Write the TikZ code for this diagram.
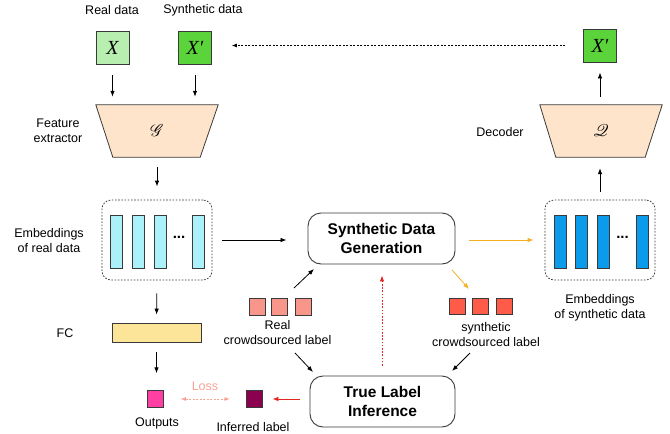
\documentclass[tikz,border=0pt]{standalone}
\usepackage{graphicx}
\usepackage{fontspec}
\usepackage{mathrsfs}
\setmainfont{Liberation Sans}
\newfontfamily\tms{Liberation Serif}
\usetikzlibrary{arrows.meta,calc}

\definecolor{lgreen}{HTML}{B9EEB1}
\definecolor{dgreen}{HTML}{5AD43A}
\definecolor{peach}{HTML}{FDE4CB}
\definecolor{cyanbar}{HTML}{AAF1F9}
\definecolor{bluebar}{HTML}{0A9BEA}
\definecolor{fcyellow}{HTML}{FCE599}
\definecolor{outpink}{HTML}{FF40A2}
\definecolor{maroon}{HTML}{8C0050}
\definecolor{reallab}{HTML}{F8968B}
\definecolor{synlab}{HTML}{FF5B49}
\definecolor{orangearr}{HTML}{F5AF22}
\definecolor{losscol}{HTML}{F7A294}
\definecolor{redarr}{HTML}{E4261E}
\definecolor{edge}{HTML}{3A3A3A}

\newcommand{\bigscr}[1]{\scalebox{1.7}{$\mathscr{#1}$}}

\tikzset{
  txt/.style={font=\fontsize{12.5}{15}\selectfont, align=center, inner sep=0pt},
  sq/.style={draw=edge, line width=0.8pt, minimum size=33pt, inner sep=0pt,
    font=\tms\itshape\fontsize{20}{20}\selectfont},
  lab/.style={draw=edge, line width=0.8pt, minimum width=16pt, minimum height=16.5pt, inner sep=0pt},
  bar/.style={draw=edge, line width=0.8pt, minimum width=12pt, minimum height=53pt, inner sep=0pt},
  dots/.style={inner sep=0pt, font=\bfseries\fontsize{15}{15}\selectfont},
  grp/.style={draw=edge, line width=0.8pt, dash pattern=on 1.6pt off 1.6pt,
    rounded corners=9pt, minimum width=110pt, minimum height=80pt},
  stage/.style={draw=edge, line width=0.9pt, rounded corners=13pt, minimum height=51pt,
    align=center, font=\bfseries\fontsize{15.5}{19}\selectfont},
  trap/.style={minimum width=122pt, minimum height=52pt, inner sep=0pt},
  arr/.style={line width=0.8pt, -{Latex[length=6pt,width=4.5pt]}},
}

\begin{document}
\begin{tikzpicture}[x=1pt,y=-1pt]
\useasboundingbox (0,0) rectangle (670,434);

% ---------- inputs and feature extractor ----------
\node[txt] at (112,10) {Real data};
\node[txt] at (203,10) {Synthetic data};
\node[sq, fill=lgreen] (x) at (112.5,47.5) {X};
\node[sq, fill=dgreen] (xs) at (195,47.5) {X′};

\node[trap] (G) at (157,131) {};
\fill[peach, draw=edge, line width=0.8pt]
  (G.north west) -- (G.north east) -- ($(G.south east)+(-18,0)$)
  -- ($(G.south west)+(17,0)$) -- cycle;
\node[inner sep=0pt] at (G.center) {\bigscr{G}};
\node[txt] at (58,131) {Feature\\extractor};

\draw[arr, shorten <=11pt, shorten >=8pt] (x.south) -- (x.south |- G.north);
\draw[arr, shorten <=11pt, shorten >=8pt] (xs.south) -- (xs.south |- G.north);

% ---------- embeddings of real data ----------
\node[grp] (er) at (157,240) {};
\node[bar, fill=cyanbar] (e1) at (116.5,241.5) {};
\node[bar, fill=cyanbar] (e2) at (138,241.5) {};
\node[bar, fill=cyanbar] (e3) at (160,241.5) {};
\node[bar, fill=cyanbar] (e4) at (198.5,241.5) {};
\node[dots] at (179,237) {...};
\node[txt] at (49,240.5) {Embeddings\\of real data};

\draw[arr, shorten <=10pt, shorten >=13pt] (G.south) -- (er.north);

% ---------- FC and outputs ----------
\node[draw=edge, line width=0.8pt, fill=fcyellow, minimum width=89pt, minimum height=19pt,
  inner sep=0pt] (fc) at (156.5,332.5) {};
\node[txt] at (65,333) {FC};
\draw[arr, shorten <=13pt, shorten >=8pt] (er.south) -- (fc.north);

\node[lab, fill=outpink] (out) at (155.5,399) {};
\node[txt] at (157,423) {Outputs};
\draw[arr, shorten <=10pt, shorten >=17pt] (fc.south) -- (out.north -| fc.south);

\node[lab, fill=maroon] (inf) at (254,399) {};
\node[txt] at (253,427) {Inferred label};

\draw[line width=0.7pt, losscol, dash pattern=on 2pt off 1.5pt,
  {Latex[length=5pt,width=4pt]}-{Latex[length=5pt,width=4pt]},
  shorten <=17pt, shorten >=16pt] (out.east) -- (inf.west);
\node[txt, text=losscol] at (205,386) {Loss};

% ---------- central stages ----------
\node[stage, minimum width=147pt] (sdg) at (381.5,238.5) {Synthetic Data\\Generation};
\node[stage, minimum width=145pt] (tli) at (382.5,401.5) {True Label\\Inference};

\draw[arr, shorten <=10pt, shorten >=21pt] (er.east) -- (sdg.west |- er.east);
\draw[arr, redarr, shorten <=10pt, shorten >=10pt] (tli.west |- inf.east) -- (inf.east);
\draw[line width=0.8pt, redarr, dash pattern=on 1.6pt off 1.6pt,
  -{Latex[length=6pt,width=4.5pt]}, shorten <=10pt, shorten >=11pt]
  (tli.north -| 382,0) -- (sdg.south -| 382,0);

% ---------- real crowdsourced labels ----------
\node[lab, fill=reallab] (r1) at (257.5,307) {};
\node[lab, fill=reallab] (r2) at (279.5,307) {};
\node[lab, fill=reallab] (r3) at (303,307) {};
\node[txt] (rtxt) at (277.5,332.5) {Real\\crowdsourced label};
\coordinate (ra) at (294,288);
\coordinate (rb) at (314,269);
\coordinate (rc) at (295,353);
\coordinate (rd) at (313,372);
\draw[arr] (ra) -- (rb);
\draw[arr] (rc) -- (rd);

% ---------- synthetic crowdsourced labels ----------
\node[lab, fill=synlab] (s1) at (457.5,306.5) {};
\node[lab, fill=synlab] (s2) at (480.5,306.5) {};
\node[lab, fill=synlab] (s3) at (504.5,306.5) {};
\node[txt] (stxt) at (486,334.5) {synthetic\\crowdsourced label};
\coordinate (sa) at (452,270);
\coordinate (sb) at (469,289);
\coordinate (sc) at (470,353);
\coordinate (sd) at (452,371);
\draw[arr, orangearr] (sa) -- (sb);
\draw[arr] (sc) -- (sd);

% ---------- embeddings of synthetic data ----------
\node[grp] (es) at (600,240) {};
\node[bar, fill=bluebar] (b1) at (560,241.5) {};
\node[bar, fill=bluebar] (b2) at (581,241.5) {};
\node[bar, fill=bluebar] (b3) at (603,241.5) {};
\node[bar, fill=bluebar] (b4) at (642,241.5) {};
\node[dots] at (622.5,237) {...};
\node[txt] at (600,307.5) {Embeddings\\of synthetic data};

\draw[arr, orangearr, shorten <=14pt, shorten >=11pt] (sdg.east |- es.west) -- (es.west);

% ---------- decoder ----------
\node[trap] (Q) at (601,131) {};
\fill[peach, draw=edge, line width=0.8pt]
  (Q.north west) -- (Q.north east) -- ($(Q.south east)+(-17,0)$)
  -- ($(Q.south west)+(16,0)$) -- cycle;
\node[inner sep=0pt] at (Q.center) {\bigscr{Q}};
\node[txt] at (500,132) {Decoder};

\node[sq, fill=dgreen] (xr) at (600,45.5) {X′};

\draw[arr, shorten <=8pt, shorten >=11pt] (es.north) -- (es.north |- Q.south);
\draw[arr, shorten <=8pt, shorten >=10pt] (xr.south |- Q.north) -- (xr.south);
\draw[line width=0.7pt, dash pattern=on 2pt off 1.5pt, -{Latex[length=5pt,width=4pt]},
  shorten <=18pt, shorten >=20pt] (xr.west) -- (xs.east |- xr.west);
\end{tikzpicture}
\end{document}
